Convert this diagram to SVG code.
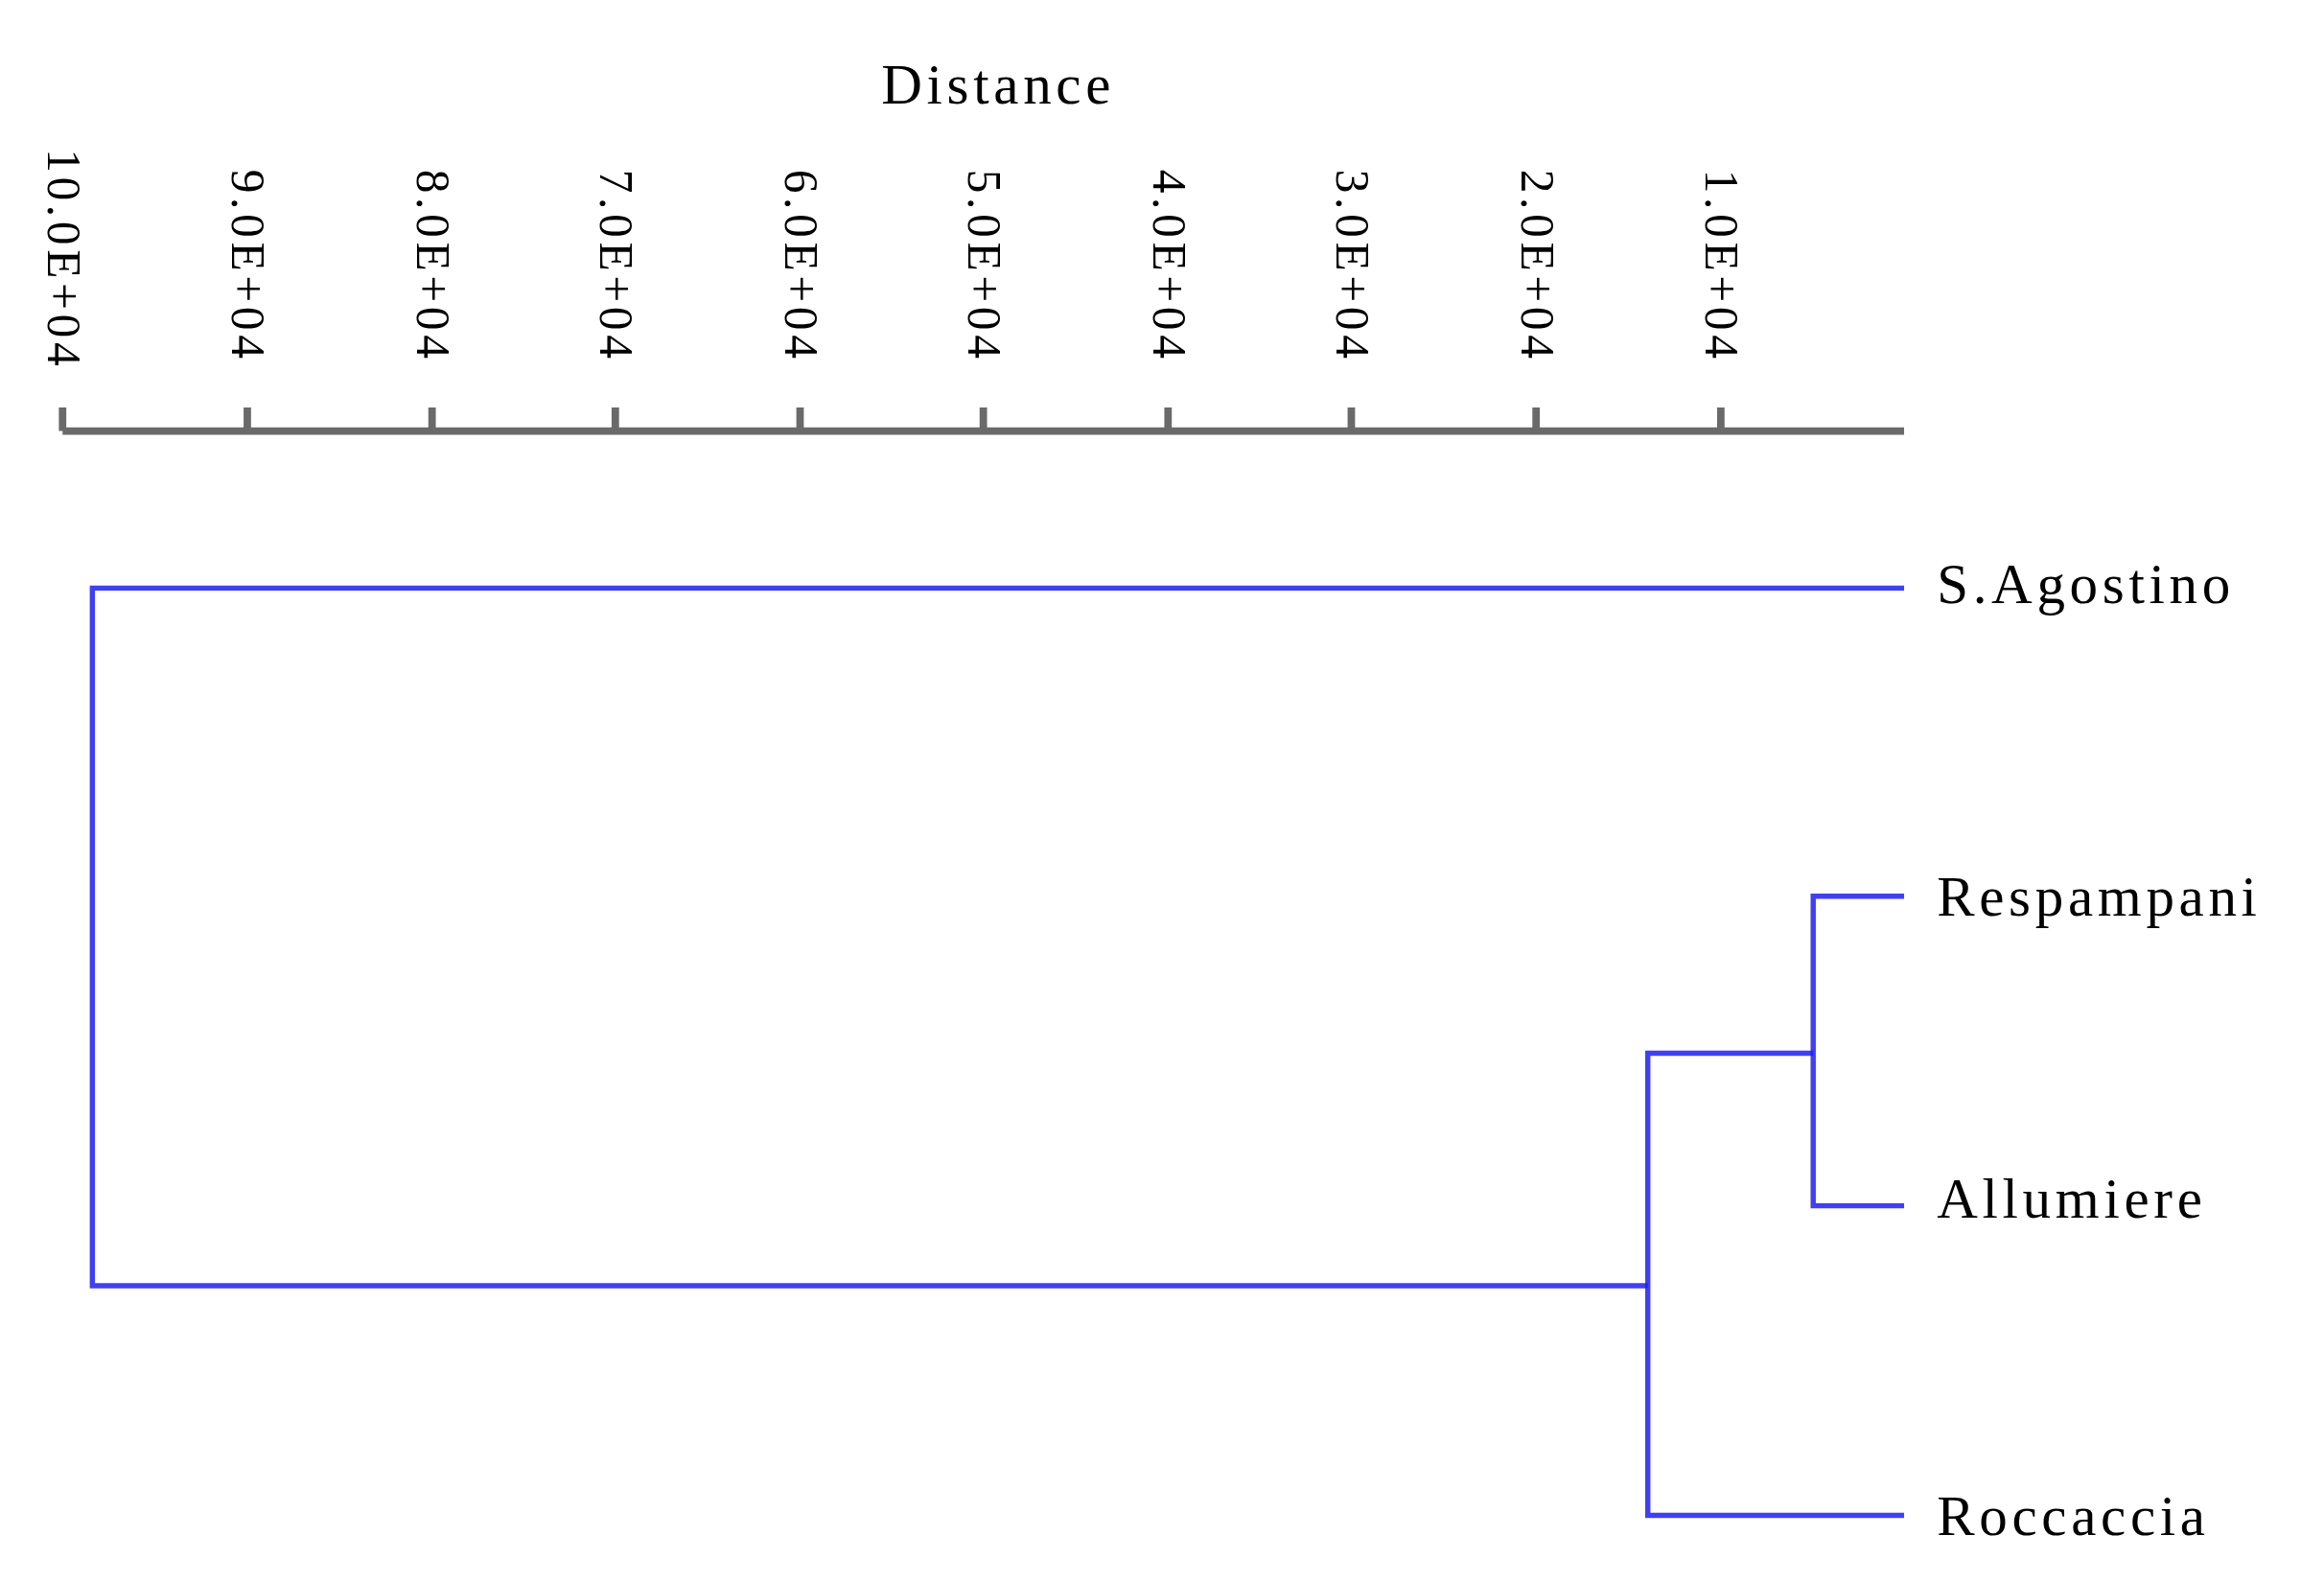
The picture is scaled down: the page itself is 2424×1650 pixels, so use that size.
<svg xmlns="http://www.w3.org/2000/svg" width="2424" height="1650" viewBox="0 0 2424 1650">
<style>
.t{font-family:"Liberation Serif","Noto Sans CJK SC",serif;fill:#000}
.tk{font-size:32px;letter-spacing:3px}
.lb{font-size:38px;letter-spacing:3px}
.ax{stroke:#6a6a6a;stroke-width:5;fill:none}
.br{stroke:#1f1ff0;stroke-width:3.5;fill:none;stroke-opacity:0.85}
</style>
<rect width="2424" height="1650" fill="#fff"/>
<g transform="scale(1.554 1.545)">
<g id="axis">
<text class="t lb" x="670" y="70" text-anchor="middle">Distance</text>
<path class="ax" d="M42 291H1278M42 275V291M166 275V291M290 275V291M413 275V291M537 275V291M660 275V291M784 275V291M907 275V291M1031 275V291M1155 275V291"/>
<g class="t tk" text-anchor="end">
<text transform="translate(32 250) rotate(90)">10.0E+04</text>
<text transform="translate(156 245) rotate(90)">9.0E+04</text>
<text transform="translate(280 245) rotate(90)">8.0E+04</text>
<text transform="translate(403 245) rotate(90)">7.0E+04</text>
<text transform="translate(527 245) rotate(90)">6.0E+04</text>
<text transform="translate(650 245) rotate(90)">5.0E+04</text>
<text transform="translate(774 245) rotate(90)">4.0E+04</text>
<text transform="translate(897 245) rotate(90)">3.0E+04</text>
<text transform="translate(1021 245) rotate(90)">2.0E+04</text>
<text transform="translate(1145 245) rotate(90)">1.0E+04</text>
</g>
</g>
<g id="connectors">
<path class="br" d="M1278 397H62V868H1106"/>
<path class="br" d="M1278 1023H1106V711H1217"/>
<path class="br" d="M1278 605H1217V814H1278"/>
</g>
<g id="n1"><text class="t lb" x="1300" y="407">S.Agostino</text></g>
<g id="n2"><text class="t lb" x="1300" y="618">Respampani</text></g>
<g id="n3"><text class="t lb" x="1300" y="822">Allumiere</text></g>
<g id="n4"><text class="t lb" x="1300" y="1036">Roccaccia</text></g>
</g>
</svg>
